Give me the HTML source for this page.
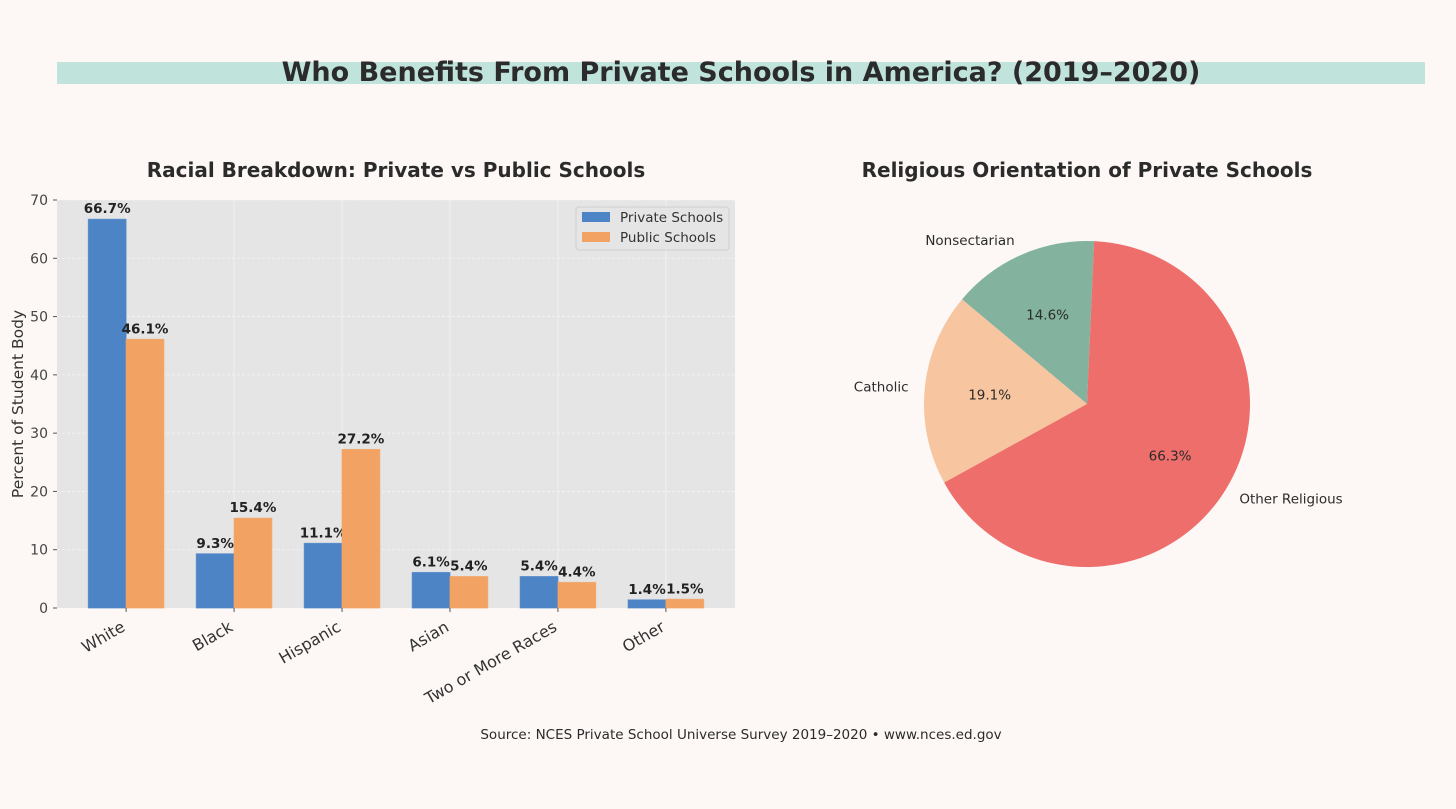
<!DOCTYPE html>
<html><head><meta charset="utf-8">
<style>
html,body{margin:0;padding:0;background:#fdf8f5;}
svg{display:block;font-family:"DejaVu Sans","Liberation Sans",sans-serif;}
</style></head>
<body>
<svg id="c" width="1456" height="809" viewBox="0 0 1456 809">
<rect x="0" y="0" width="1456" height="809" fill="#fdf8f5"/>
<rect x="57" y="62" width="1368" height="22" fill="#c0e3dc"/>
<text x="741" y="81" text-anchor="middle" font-size="27" font-weight="bold" fill="#2b2b2b">Who Benefits From Private Schools in America? (2019–2020)</text>
<text x="396" y="177" text-anchor="middle" font-size="20" font-weight="bold" fill="#2b2b2b">Racial Breakdown: Private vs Public Schools</text>
<text x="1087" y="177" text-anchor="middle" font-size="20" font-weight="bold" fill="#2b2b2b">Religious Orientation of Private Schools</text>
<rect x="57" y="200" width="678" height="408" fill="#e5e5e5"/>
<g id="grid"></g>
<g id="bars"></g>
<g id="yaxis"></g>
<g id="xaxis"></g>
<text transform="translate(23,404) rotate(-90)" text-anchor="middle" font-size="15.5" fill="#333">Percent of Student Body</text>
<g>
<rect x="576" y="207" width="153" height="43" rx="3" fill="#e5e5e5" stroke="#cfcfcf"/>
<rect x="582" y="212" width="28" height="10" fill="#4c84c6"/>
<text x="620" y="222" font-size="13.5" fill="#333">Private Schools</text>
<rect x="582" y="232" width="28" height="10" fill="#f2a262"/>
<text x="620" y="242" font-size="13.5" fill="#333">Public Schools</text>
</g>
<g id="pie"></g>
<text x="741" y="739" text-anchor="middle" font-size="13.5" fill="#2b2b2b">Source: NCES Private School Universe Survey 2019–2020 • www.nces.ed.gov</text>
</svg>
<script>
const categories = ["White","Black","Hispanic","Asian","Two or More Races","Other"];
const privateValues = [66.7,9.3,11.1,6.1,5.4,1.4];
const publicValues = [46.1,15.4,27.2,5.4,4.4,1.5];
const yTicks = [0,10,20,30,40,50,60,70];
const pieLabels = ["Nonsectarian","Catholic","Other Religious"];
const pieValues = [14.6,19.1,66.3];
const pieColors = ["#83b39e","#f7c5a0","#ee6e6b"];

const NS="http://www.w3.org/2000/svg";
function mk(tag,attrs,parent){const e=document.createElementNS(NS,tag);for(const k in attrs)e.setAttribute(k,attrs[k]);parent.appendChild(e);return e;}
const L=57,R=735,T=200,B=608;
const xmin=-0.64,xmax=5.64,ymax=70;
const xs=i=>L+(i-xmin)/(xmax-xmin)*(R-L);
const ys=v=>B-v/ymax*(B-T);
const bw=0.35*(R-L)/(xmax-xmin);
const grid=document.getElementById('grid'),bars=document.getElementById('bars'),ya=document.getElementById('yaxis'),xa=document.getElementById('xaxis');
yTicks.forEach(t=>{
  if(t>0){const g=mk('line',{x1:L,x2:R,y1:ys(t),y2:ys(t),stroke:'#f5f5f5','stroke-dasharray':'3,2','stroke-width':0.8},grid);
  }
  const tk=mk('line',{x1:L-4,x2:L,y1:ys(t),y2:ys(t),stroke:'#555'},ya);
  
  const tx=mk('text',{x:L-9,y:ys(t)+5,'text-anchor':'end','font-size':14,fill:'#444'},ya);tx.textContent=t;
  
});
categories.forEach((c,i)=>{
  const cx=xs(i);
  const g=mk('line',{x1:cx,x2:cx,y1:T,y2:B,stroke:'#f5f5f5','stroke-width':0.8},grid);
  
  [[privateValues[i],cx-bw,'#4c84c6','bar-private'],[publicValues[i],cx,'#f2a262','bar-public']].forEach(([v,x0,col,nm])=>{
    const r=mk('rect',{x:x0,y:ys(v),width:bw,height:B-ys(v),fill:col,stroke:col,'stroke-opacity':0.7},bars);
    
    const t=mk('text',{x:x0+bw/2,y:ys(v)-6,'text-anchor':'middle','font-size':13.5,'font-weight':'bold',fill:'#222'},bars);
    t.textContent=v.toFixed(1)+'%';
    
  });
  const tk=mk('line',{x1:cx,x2:cx,y1:B,y2:B+4,stroke:'#555'},xa);
  
  const tx=mk('text',{transform:`translate(${cx},${B+22}) rotate(-30)`,'text-anchor':'end','font-size':16,fill:'#333'},xa);
  tx.textContent=c;
  
});
// pie
const pie=document.getElementById('pie');
const pcx=1087,pcy=404,pr=163;
const total=pieValues.reduce((a,b)=>a+b,0);
let a0=87.5;
pieValues.forEach((v,i)=>{
  const sweep=v/total*360,a1=a0+sweep;
  const p=a=>[pcx+pr*Math.cos(a*Math.PI/180),pcy-pr*Math.sin(a*Math.PI/180)];
  const [x0,y0]=p(a0),[x1,y1]=p(a1);
  const path=mk('path',{d:`M${pcx},${pcy} L${x0},${y0} A${pr},${pr} 0 ${sweep>180?1:0} 0 ${x1},${y1} Z`,fill:pieColors[i]},pie);
  
  const mid=(a0+a1)/2*Math.PI/180;
  const pt=mk('text',{x:pcx+0.6*pr*Math.cos(mid),y:pcy-0.6*pr*Math.sin(mid)+5,'text-anchor':'middle','font-size':13.5,fill:'#2b2b2b'},pie);
  pt.textContent=v.toFixed(1)+'%';
  
  const lx=pcx+1.1*pr*Math.cos(mid),ly=pcy-1.1*pr*Math.sin(mid);
  const lt=mk('text',{x:lx,y:ly+5,'text-anchor':Math.cos(mid)<0?'end':'start','font-size':13.5,fill:'#2b2b2b'},pie);
  lt.textContent=pieLabels[i];
  
  a0=a1;
});
</script>
</body></html>
